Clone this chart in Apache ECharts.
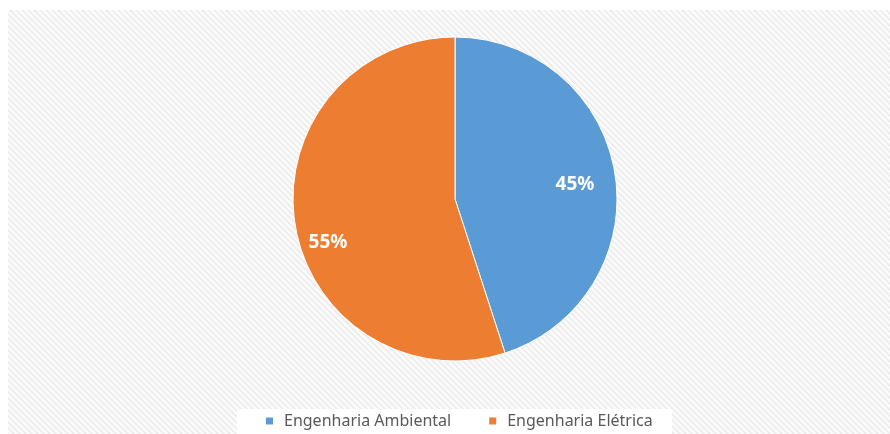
<!DOCTYPE html>
<html>
<head>
<meta charset="utf-8">
<style>
  html, body { margin: 0; padding: 0; background: #ffffff; }
  #chart { width: 890px; height: 434px; }
</style>
<script src="https://cdn.jsdelivr.net/npm/echarts@6/dist/echarts.min.js"></script>
</head>
<body>
<div id="chart"></div>
<script>
// Share of students by programme
const categories = ['Engenharia Ambiental', 'Engenharia Elétrica'];
const shares = [45, 55];
const sliceColors = ['#5b9bd5', '#ed7d31'];

// Light diagonal hatch used as the plot backdrop
function makeHatch() {
  const c = document.createElement('canvas');
  c.width = 6; c.height = 6;
  const g = c.getContext('2d');
  g.fillStyle = '#fbfbfb';
  g.fillRect(0, 0, 6, 6);
  g.strokeStyle = '#ececec';
  g.lineWidth = 1.6;
  g.beginPath();
  g.moveTo(-1, -1); g.lineTo(7, 7);
  g.moveTo(-4, 2); g.lineTo(4, 10);
  g.moveTo(2, -4); g.lineTo(10, 4);
  g.stroke();
  return c;
}

const labelOffsets = [[37, -1], [-44, 30]];

const chart = echarts.init(document.getElementById('chart'), null, { renderer: 'canvas' });
chart.setOption({
  backgroundColor: '#ffffff',
  animation: false,
  graphic: [
    {
      type: 'rect', z: -10, silent: true,
      shape: { x: 8, y: 10, width: 882, height: 424 },
      style: { fill: { image: makeHatch(), repeat: 'repeat' } }
    },
    {
      type: 'rect', z: -5, silent: true,
      shape: { x: 237, y: 409, width: 435, height: 25 },
      style: { fill: '#ffffff' }
    }
  ],
  legend: {
    data: categories,
    bottom: 0,
    left: 259,
    itemWidth: 9,
    itemHeight: 9,
    itemGap: 36,
    icon: 'rect',
    textStyle: { color: '#595959', fontSize: 16, fontFamily: 'Noto Sans', padding: [0, 0, 0, 5] }
  },
  series: [{
    type: 'pie',
    center: [455, 199],
    radius: [0, 162],
    startAngle: 90,
    clockwise: true,
    itemStyle: { borderColor: '#ffffff', borderWidth: 1 },
    label: {
      show: true,
      position: 'inside',
      formatter: '{c}%',
      color: '#ffffff',
      fontSize: 19,
      fontWeight: 'bold',
      fontFamily: 'Noto Sans'
    },
    labelLine: { show: false },
    data: categories.map((name, i) => ({
      name,
      value: shares[i],
      itemStyle: { color: sliceColors[i] },
      label: { offset: labelOffsets[i] }
    }))
  }]
});
</script>
</body>
</html>
